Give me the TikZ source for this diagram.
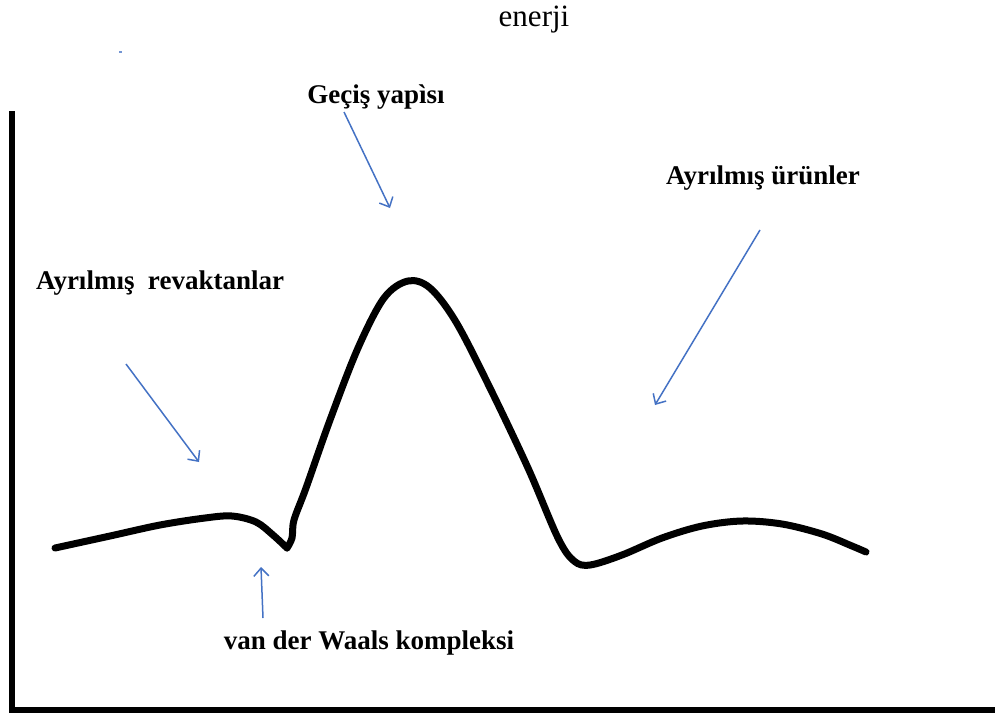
\documentclass[tikz,border=0pt]{standalone}
\usepackage{fontspec}
\setmainfont{Liberation Serif}
\usetikzlibrary{arrows.meta}
\definecolor{pointer}{RGB}{68,114,196}
\begin{document}
\begin{tikzpicture}[x=1pt,y=-1pt,
  axis/.style={line width=6.5pt,line cap=rect},
  energy/.style={line width=7pt,line cap=round,line join=round},
  pointer/.style={draw=pointer,line width=1.5pt,-{Straight Barb[length=8pt,width=15pt,line width=1.5pt]}},
  lbl/.style={font=\fontsize{27}{30}\selectfont\bfseries,inner sep=0pt}]
\useasboundingbox (0,0) rectangle (995,718);

% axes
\coordinate (top) at (12,114);
\coordinate (origin) at (12,710);
\coordinate (right) at (998,710);
\draw[axis] (top) -- (origin) -- (right);

% energy profile
\draw[energy] plot[smooth,tension=0.55] coordinates {
  (55,548) (110,536) (160,525) (205,518) (232,516) (256,522) (273,535) (287,548)};
\draw[energy] plot[smooth,tension=0.55] coordinates {
  (287,548) (292,538) (294,520) (306,488) (330,420) (358,348) (384,298) (408,281)
  (430,288) (456,322) (490,388) (528,468) (558,538) (574,561) (590,565)
  (622,555) (662,538) (702,526) (742,521) (782,524) (822,534) (852,546) (866,552)};

% labels
\node[font=\fontsize{31}{34}\selectfont,inner sep=0pt] (yaxis) at (534,20) {enerji};
\node[lbl] (ts) at (376,97) {Geçiş yapìsı};
\node[lbl] (react) at (160,283) {Ayrılmış\ \ revaktanlar};
\node[lbl] (prod) at (763,178) {Ayrılmış ürünler};
\node[lbl] (vdw) at (369,643) {van der Waals kompleksi};

% pointers
\coordinate (tsA) at (344,112);   \coordinate (tsB) at (390,208);
\coordinate (reA) at (126,364);   \coordinate (reB) at (199,462);
\coordinate (prA) at (760,230);   \coordinate (prB) at (655,405);
\coordinate (vwA) at (263,618);   \coordinate (vwB) at (261,567);
\draw[pointer] (tsA) -- (tsB);
\draw[pointer] (reA) -- (reB);
\draw[pointer] (prA) -- (prB);
\draw[pointer] (vwA) -- (vwB);

% stray mark
\fill[pointer!75] (118.5,51) rectangle (121.5,53);
\end{tikzpicture}
\end{document}
